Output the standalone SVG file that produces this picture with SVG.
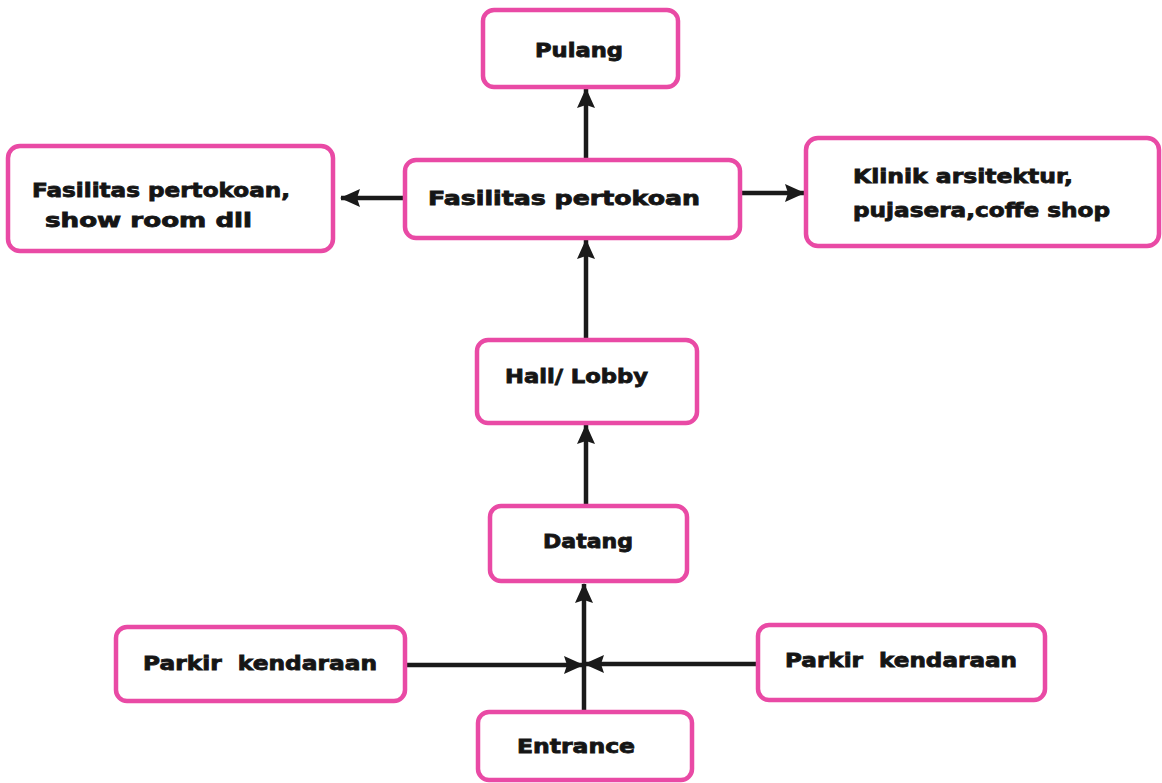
<svg xmlns="http://www.w3.org/2000/svg" width="1162" height="783" viewBox="0 0 1162 783">
<style>
.box{fill:#ffffff;stroke:#e94aa5;stroke-width:4.5}
.lbl{font-family:"DejaVu Sans","Liberation Sans",sans-serif;font-weight:bold;font-size:19px;fill:#151515;stroke:#151515;stroke-width:0.8;white-space:pre}
.con{stroke:#1a1a1a;stroke-width:4.5;fill:none}
</style>
<defs>
<marker id="ah" viewBox="0 0 20 18" refX="19" refY="9" markerWidth="20" markerHeight="18" markerUnits="userSpaceOnUse" orient="auto">
<path d="M0,0 L20,9 L0,18 L3,9 z" fill="#1a1a1a"/>
</marker>
</defs>
<rect width="1162" height="783" fill="#ffffff"/>
<g id="connectors">
<line class="con" x1="586" y1="158" x2="586" y2="89" marker-end="url(#ah)"/>
<line class="con" x1="586" y1="338" x2="586" y2="240" marker-end="url(#ah)"/>
<line class="con" x1="586" y1="505" x2="586" y2="425" marker-end="url(#ah)"/>
<line class="con" x1="584" y1="711" x2="584" y2="584" marker-end="url(#ah)"/>
<line class="con" x1="406" y1="665" x2="583" y2="665" marker-end="url(#ah)"/>
<line class="con" x1="757" y1="664" x2="585" y2="664" marker-end="url(#ah)"/>
<line class="con" x1="404" y1="198" x2="341" y2="198" marker-end="url(#ah)"/>
<line class="con" x1="742" y1="193" x2="804" y2="193" marker-end="url(#ah)"/>
</g>
<g id="pulang">
<rect class="box" x="483" y="10" width="195" height="77" rx="11"/>
<text class="lbl" x="535" y="57" textLength="88" lengthAdjust="spacingAndGlyphs">Pulang</text>
</g>
<g id="fasilitas">
<rect class="box" x="405" y="160" width="335" height="78" rx="11"/>
<text class="lbl" x="428" y="205" textLength="272" lengthAdjust="spacingAndGlyphs">Fasilitas pertokoan</text>
</g>
<g id="fasilitas-showroom">
<rect class="box" x="8" y="146" width="325" height="105" rx="12"/>
<text class="lbl" x="32" y="197" textLength="258" lengthAdjust="spacingAndGlyphs">Fasilitas pertokoan,</text>
<text class="lbl" x="45" y="227" textLength="207" lengthAdjust="spacingAndGlyphs">show room dll</text>
</g>
<g id="klinik">
<rect class="box" x="806" y="138" width="353" height="108" rx="12"/>
<text class="lbl" x="853" y="183" textLength="220" lengthAdjust="spacingAndGlyphs">Klinik arsitektur,</text>
<text class="lbl" x="853" y="217" textLength="257" lengthAdjust="spacingAndGlyphs">pujasera,coffe shop</text>
</g>
<g id="hall">
<rect class="box" x="477" y="340" width="220" height="83" rx="11"/>
<text class="lbl" x="505" y="383" textLength="143" lengthAdjust="spacingAndGlyphs">Hall/ Lobby</text>
</g>
<g id="datang">
<rect class="box" x="490" y="506" width="197" height="75" rx="11"/>
<text class="lbl" x="543" y="548" textLength="90" lengthAdjust="spacingAndGlyphs">Datang</text>
</g>
<g id="parkir-left">
<rect class="box" x="116" y="627" width="289" height="74" rx="11"/>
<text class="lbl" x="143" y="670" textLength="234" lengthAdjust="spacingAndGlyphs" xml:space="preserve">Parkir  kendaraan</text>
</g>
<g id="parkir-right">
<rect class="box" x="758" y="625" width="287" height="75" rx="11"/>
<text class="lbl" x="785" y="667" textLength="232" lengthAdjust="spacingAndGlyphs" xml:space="preserve">Parkir  kendaraan</text>
</g>
<g id="entrance">
<rect class="box" x="478" y="712" width="214" height="68" rx="11"/>
<text class="lbl" x="517" y="753" textLength="118" lengthAdjust="spacingAndGlyphs">Entrance</text>
</g>
</svg>
